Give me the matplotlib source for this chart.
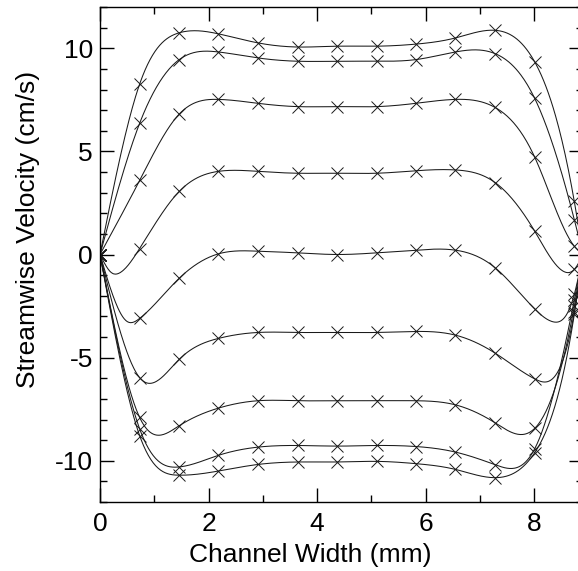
import numpy as np
import matplotlib
matplotlib.use('Agg')
from matplotlib import pyplot as plt
from matplotlib.ticker import MultipleLocator

# marker positions across the channel (mm), right wall at 8.9 mm
x_pts = [0.0, 0.73, 1.46, 2.18, 2.91, 3.64, 4.37, 5.10, 5.82, 6.55, 7.28, 8.01, 8.74]
x_wall = 8.9

# streamwise velocity (cm/s) at x_pts, one list per phase
u_a = [0, 8.26, 10.75, 10.70, 10.26, 10.06, 10.10, 10.10, 10.20, 10.50, 10.87, 9.34, 2.57]
u_b = [0, 6.36, 9.45, 9.82, 9.53, 9.37, 9.37, 9.37, 9.45, 9.82, 9.74, 7.57, 1.69]
u_c = [0, 3.59, 6.81, 7.52, 7.33, 7.17, 7.17, 7.17, 7.33, 7.52, 7.13, 4.72, 0.40]
u_d = [0, 0.29, 3.06, 4.03, 4.03, 3.94, 3.94, 3.94, 4.06, 4.10, 3.49, 1.13, -0.72]
u_e = [0, -3.10, -1.15, 0.03, 0.16, 0.08, 0.00, 0.08, 0.21, 0.21, -0.64, -2.64, -1.93]
u_f = [0, -5.97, -5.08, -4.07, -3.78, -3.78, -3.78, -3.78, -3.73, -3.91, -4.78, -6.03, -2.80]
u_g = [0, -7.90, -8.30, -7.45, -7.09, -7.09, -7.09, -7.09, -7.09, -7.29, -8.16, -8.43, -2.50]
u_h = [0, -8.45, -10.30, -9.74, -9.34, -9.26, -9.29, -9.26, -9.31, -9.58, -10.19, -9.42, -2.20]
u_i = [0, -8.78, -10.70, -10.50, -10.18, -10.06, -10.06, -10.03, -10.14, -10.42, -10.82, -9.61, -2.90]

shape_d = [(0.21, -0.88), (0.37, -0.88), (8.55, -0.83)]
shape_e = [(0.50, -3.25), (8.36, -3.27)]

profiles = [(u_a, []), (u_b, []), (u_c, []), (u_d, shape_d), (u_e, shape_e),
            (u_f, []), (u_g, []), (u_h, []), (u_i, [])]


def natural_spline(xk, yk, xs):
    n = len(xk)
    h = np.diff(xk)
    A = np.zeros((n, n))
    r = np.zeros(n)
    A[0, 0] = A[-1, -1] = 1
    for i in range(1, n - 1):
        A[i, i - 1] = h[i - 1]
        A[i, i] = 2 * (h[i - 1] + h[i])
        A[i, i + 1] = h[i]
        r[i] = 3 * ((yk[i + 1] - yk[i]) / h[i] - (yk[i] - yk[i - 1]) / h[i - 1])
    c = np.linalg.solve(A, r)
    b = (yk[1:] - yk[:-1]) / h - h * (2 * c[:-1] + c[1:]) / 3
    d = (c[1:] - c[:-1]) / (3 * h)
    idx = np.clip(np.searchsorted(xk, xs) - 1, 0, n - 2)
    dx = xs - xk[idx]
    return yk[idx] + b[idx] * dx + c[idx] * dx ** 2 + d[idx] * dx ** 3


plt.rcParams['font.family'] = ['Liberation Sans', 'DejaVu Sans']
plt.rcParams['axes.unicode_minus'] = False

fig = plt.figure(figsize=(5.78, 5.71), dpi=100)
ax = fig.add_axes([100 / 578, 1 - 502 / 571, 483 / 578, 495 / 571])

xs = np.linspace(0, x_wall, 600)
for u, extra in profiles:
    pts = sorted(list(zip(x_pts, u)) + extra + [(x_wall, 0.0)])
    xk = np.array([p[0] for p in pts])
    yk = np.array([p[1] for p in pts])
    ax.plot(xs, natural_spline(xk, yk, xs), color='#1a1a1a', lw=0.75)
    ax.plot(x_pts, u, linestyle='none', marker='x', ms=8.5, mew=0.7, color='#1a1a1a')

ax.set_xlim(0, x_wall)
ax.set_ylim(-12, 12)
ax.xaxis.set_major_locator(MultipleLocator(2))
ax.xaxis.set_minor_locator(MultipleLocator(1))
ax.yaxis.set_major_locator(MultipleLocator(5))
ax.yaxis.set_minor_locator(MultipleLocator(1))
ax.tick_params(which='both', direction='in', top=True, right=True, width=1)
ax.tick_params(which='major', length=10, labelsize=19)
ax.tick_params(which='minor', length=5)
ax.tick_params(axis='x', pad=7)
ax.tick_params(axis='y', pad=5)
for s in ax.spines.values():
    s.set_linewidth(1.0)

ax.set_xlabel('Channel Width (mm)', fontsize=19)
ax.set_ylabel('Streamwise Velocity (cm/s)', fontsize=19)
ax.xaxis.set_label_coords(0.436, -0.082)
ax.yaxis.set_label_coords(-0.125, 0.55)

fig.savefig('out.png', dpi=100)
